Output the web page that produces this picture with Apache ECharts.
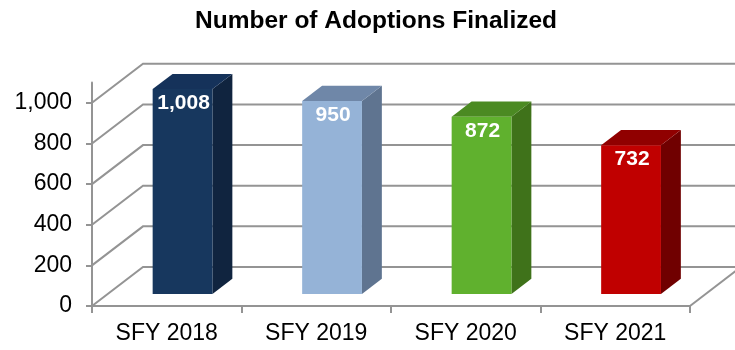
<!DOCTYPE html>
<html>
<head>
<meta charset="utf-8">
<title>Number of Adoptions Finalized</title>
<script src="https://cdn.jsdelivr.net/npm/echarts@6/dist/echarts.min.js"></script>
<style>
  html, body { margin: 0; padding: 0; background: #fff; }
  #chart { width: 735px; height: 350px; }
</style>
</head>
<body>
<div id="chart"></div>
<script>
// ---- data ----
const categories = ['SFY 2018', 'SFY 2019', 'SFY 2020', 'SFY 2021'];
const adoptions = [1008, 950, 872, 732];
const yTicks = [0, 200, 400, 600, 800, 1000];

// ---- styling ----
const FONT = '"Liberation Sans", Arial, Helvetica, sans-serif';
const GRID_COLOR = '#949494';
const DEPTH_X = 51;      // horizontal shift of the back wall
const DEPTH_Y = 39;      // vertical shift of the back wall
const BAR_NEAR = 0.31;   // bar front face, fraction of floor depth
const BAR_FAR = 0.70;    // bar back face, fraction of floor depth
const BAR_WIDTH = 0.40;  // bar width, fraction of category band
const barPalette = [
  { front: '#17375E', top: '#15325A', side: '#10243F' },
  { front: '#95B3D7', top: '#6F87A8', side: '#5F7490' },
  { front: '#60B12E', top: '#4B8A22', side: '#3F721A' },
  { front: '#C00000', top: '#900000', side: '#700000' }
];

const chart = echarts.init(document.getElementById('chart'), null, { renderer: 'canvas' });

// walls: side-wall diagonals, back-wall gridlines and the floor edge
function renderWalls(params, api) {
  const cs = params.coordSys;
  const x0 = cs.x;
  const x1 = cs.x + cs.width;
  const children = yTicks.map(function (v) {
    const y = api.coord([0, v])[1];
    return {
      type: 'polyline',
      shape: { points: [[x0, y], [x0 + DEPTH_X, y - DEPTH_Y], [x1 + DEPTH_X, y - DEPTH_Y]] },
      style: { stroke: GRID_COLOR, lineWidth: 2, fill: null },
      silent: true
    };
  });
  const yBase = api.coord([0, 0])[1];
  children.push({
    type: 'line',
    shape: { x1: x1, y1: yBase, x2: x1 + DEPTH_X, y2: yBase - DEPTH_Y },
    style: { stroke: GRID_COLOR, lineWidth: 2 },
    silent: true
  });
  return { type: 'group', children: children };
}

// 3D columns: front face, top face, right face and value label
function renderBar(params, api) {
  const i = api.value(0);
  const v = api.value(1);
  const top = api.coord([i, v]);
  const base = api.coord([i, 0]);
  const band = api.size([1, 0])[0];
  const w = band * BAR_WIDTH;
  const pal = barPalette[i % barPalette.length];

  const xl = top[0] - w / 2 + BAR_NEAR * DEPTH_X;
  const xr = xl + w;
  const yt = top[1] - BAR_NEAR * DEPTH_Y;
  const yb = base[1] - BAR_NEAR * DEPTH_Y;
  const dx = (BAR_FAR - BAR_NEAR) * DEPTH_X;
  const dy = (BAR_FAR - BAR_NEAR) * DEPTH_Y;

  return {
    type: 'group',
    children: [
      {
        type: 'polygon',
        shape: { points: [[xr, yt], [xr + dx, yt - dy], [xr + dx, yb - dy], [xr, yb]] },
        style: { fill: pal.side }
      },
      {
        type: 'polygon',
        shape: { points: [[xl, yt], [xl + dx, yt - dy], [xr + dx, yt - dy], [xr, yt]] },
        style: { fill: pal.top }
      },
      {
        type: 'rect',
        shape: { x: xl, y: yt, width: w, height: yb - yt },
        style: { fill: pal.front }
      },
      {
        type: 'text',
        style: {
          text: v.toLocaleString('en-US'),
          x: (xl + xr) / 2 + 1,
          y: yt + 14,
          align: 'center',
          verticalAlign: 'middle',
          fill: '#ffffff',
          font: 'bold 21px ' + FONT
        }
      }
    ]
  };
}

chart.setOption({
  animation: false,
  title: {
    text: 'Number of Adoptions Finalized',
    left: 190,
    top: 4,
    padding: 5,
    textStyle: { fontFamily: FONT, fontSize: 24.5, fontWeight: 'bold', color: '#000' }
  },
  grid: { left: 92, right: 45, top: 82.5, bottom: 44 },
  xAxis: {
    type: 'category',
    data: categories,
    boundaryGap: true,
    axisLine: { show: true, lineStyle: { color: GRID_COLOR, width: 2 } },
    axisTick: { show: true, alignWithLabel: false, length: 7, lineStyle: { color: GRID_COLOR, width: 2 } },
    axisLabel: { color: '#000', fontFamily: FONT, fontSize: 23, margin: 16 },
    splitLine: { show: false }
  },
  yAxis: {
    type: 'value',
    min: 0,
    max: 1100,
    interval: 200,
    axisLine: { show: true, lineStyle: { color: GRID_COLOR, width: 2 } },
    axisTick: { show: true, length: 6, customValues: yTicks, lineStyle: { color: GRID_COLOR, width: 2 } },
    axisLabel: {
      color: '#000', fontFamily: FONT, fontSize: 23, margin: 20,
      customValues: yTicks,
      formatter: function (v) { return v.toLocaleString('en-US'); }
    },
    splitLine: { show: false }
  },
  series: [
    {
      type: 'custom',
      name: 'walls',
      clip: false,
      silent: true,
      z: 1,
      renderItem: renderWalls,
      data: [[0, 0]]
    },
    {
      type: 'custom',
      name: 'Adoptions Finalized',
      clip: false,
      z: 2,
      renderItem: renderBar,
      encode: { x: 0, y: 1 },
      data: adoptions.map(function (v, i) { return [i, v]; })
    }
  ]
});
</script>
</body>
</html>
